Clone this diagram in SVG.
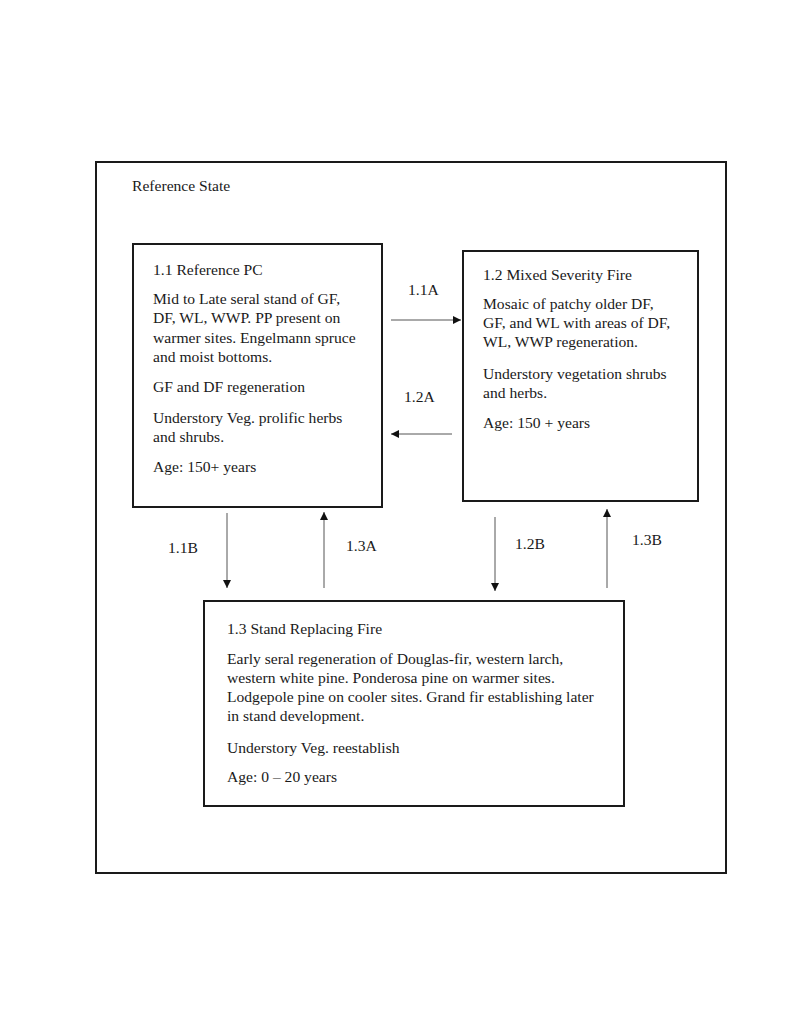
<svg xmlns="http://www.w3.org/2000/svg" width="800" height="1036" viewBox="0 0 800 1036">
<style>
.box{fill:#fff;stroke:#1a1a1a;stroke-width:2}
.t{font-family:"Liberation Serif","Times New Roman",serif;font-size:15.6px;fill:#1a1a1a}
.c{stroke:#555;stroke-width:1;fill:none;marker-end:url(#ah)}
</style>
<defs>
<marker id="ah" viewBox="0 0 10 10" refX="10" refY="5" markerWidth="10" markerHeight="8" markerUnits="userSpaceOnUse" orient="auto">
<path d="M0,0 L10,5 L0,10 z" fill="#111"/>
</marker>
</defs>
<rect width="800" height="1036" fill="#fff"/>
<g id="reference-state">
<rect class="box" x="96" y="162" width="630" height="711"/>
<text class="t" x="132" y="191">Reference State</text>
</g>
<g id="node-1-1">
<rect class="box" x="133" y="244" width="249" height="263"/>
<text class="t" x="153" y="275">1.1 Reference PC</text>
<text class="t" x="153" y="304">Mid to Late seral stand of GF,</text>
<text class="t" x="153" y="323">DF, WL, WWP. PP present on</text>
<text class="t" x="153" y="343">warmer sites. Engelmann spruce</text>
<text class="t" x="153" y="362">and moist bottoms.</text>
<text class="t" x="153" y="392">GF and DF regeneration</text>
<text class="t" x="153" y="423">Understory Veg. prolific herbs</text>
<text class="t" x="153" y="442">and shrubs.</text>
<text class="t" x="153" y="472">Age: 150+ years</text>
</g>
<g id="node-1-2">
<rect class="box" x="463" y="251" width="235" height="250"/>
<text class="t" x="483" y="280">1.2 Mixed Severity Fire</text>
<text class="t" x="483" y="309">Mosaic of patchy older DF,</text>
<text class="t" x="483" y="328">GF, and WL with areas of DF,</text>
<text class="t" x="483" y="347">WL, WWP regeneration.</text>
<text class="t" x="483" y="379">Understory vegetation shrubs</text>
<text class="t" x="483" y="398">and herbs.</text>
<text class="t" x="483" y="428">Age: 150 + years</text>
</g>
<g id="node-1-3">
<rect class="box" x="204" y="601" width="420" height="205"/>
<text class="t" x="227" y="634">1.3 Stand Replacing Fire</text>
<text class="t" x="227" y="664">Early seral regeneration of Douglas-fir, western larch,</text>
<text class="t" x="227" y="683">western white pine. Ponderosa pine on warmer sites.</text>
<text class="t" x="227" y="702">Lodgepole pine on cooler sites. Grand fir establishing later</text>
<text class="t" x="227" y="721">in stand development.</text>
<text class="t" x="227" y="753">Understory Veg. reestablish</text>
<text class="t" x="227" y="782">Age: 0 – 20 years</text>
</g>
<g id="connectors">
<line class="c" x1="391" y1="320" x2="461" y2="320"/>
<text class="t" x="408" y="295">1.1A</text>
<line class="c" x1="452" y1="434" x2="391" y2="434"/>
<text class="t" x="404" y="402">1.2A</text>
<line class="c" x1="227" y1="513" x2="227" y2="588"/>
<text class="t" x="168" y="553">1.1B</text>
<line class="c" x1="324" y1="588" x2="324" y2="512"/>
<text class="t" x="346" y="551">1.3A</text>
<line class="c" x1="495" y1="517" x2="495" y2="591"/>
<text class="t" x="515" y="549">1.2B</text>
<line class="c" x1="607" y1="588" x2="607" y2="509"/>
<text class="t" x="632" y="545">1.3B</text>
</g>
</svg>
